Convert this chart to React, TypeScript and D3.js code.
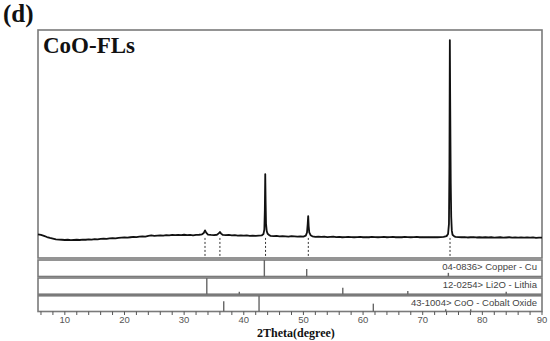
import React from "react";
import * as d3 from "d3";

// XRD pattern: [2theta, intensity]
const pattern: [number, number][] = [
  [5.5,104],[6,101],[6.5,97],[7,92],[7.5,88],[8,85],[8.5,82],[9,81],[9.5,80],[10,79],[10.5,80],[11,78],[11.5,79],[12,80],[12.5,79],[13,81],[13.5,80],[14,82],[14.5,81],[15,83],[15.5,82],[16,84],[16.5,85],[17,84],[17.5,86],[18,87],[18.5,86],[19,88],[19.5,89],[20,90],[20.5,89],[21,91],[21.5,93],[22,92],[22.5,94],[23,95],[23.5,94],[24,97],[24.5,99],[25,97],[25.5,98],[26,99],[26.5,98],[27,100],[27.5,99],[28,101],[28.5,100],[29,101],[29.5,100],[30,102],[30.5,100],[31,101],[31.5,99],[32,101],[32.5,102],[33,104],[33.3,110],[33.5,121],[33.7,111],[34,103],[34.5,101],[35,100],[35.5,102],[35.8,108],[36,114],[36.2,107],[36.5,101],[37,100],[37.5,101],[38,99],[38.5,100],[39,98],[39.5,99],[40,98],[40.5,99],[41,97],[41.5,98],[42,97],[42.5,98],[43,99],[43.3,105],[43.45,125],[43.53,210],[43.6,368],[43.66,250],[43.73,150],[43.85,118],[44,106],[44.3,100],[44.5,97],[45,96],[45.5,97],[46,95],[46.5,96],[47,95],[47.5,94],[48,96],[48.5,95],[49,94],[49.5,95],[50,94],[50.4,98],[50.6,112],[50.72,150],[50.8,184],[50.88,140],[50.98,112],[51.2,100],[51.5,95],[52,93],[52.5,94],[53,93],[53.5,94],[54,92],[54.5,93],[55,94],[55.5,92],[56,93],[56.5,91],[57,92],[57.5,93],[58,92],[58.5,91],[59,92],[59.5,93],[60,91],[60.5,92],[61,91],[61.5,93],[62,92],[62.5,91],[63,92],[63.5,93],[64,91],[64.5,92],[65,93],[65.5,91],[66,92],[66.5,91],[67,93],[67.5,92],[68,91],[68.5,92],[69,93],[69.5,91],[70,92],[70.5,91],[71,92],[71.5,91],[72,92],[72.5,91],[73,92],[73.5,93],[74,96],[74.25,105],[74.4,150],[74.48,400],[74.55,956],[74.6,720],[74.65,520],[74.7,330],[74.78,180],[74.88,120],[75,102],[75.3,95],[75.5,93],[76,92],[76.5,91],[77,92],[77.5,90],[78,91],[78.5,92],[79,90],[79.5,91],[80,90],[80.5,91],[81,90],[81.5,91],[82,89],[82.5,90],[83,91],[83.5,89],[84,90],[84.5,91],[85,89],[85.5,90],[86,89],[86.5,90],[87,89],[87.5,90],[88,89],[88.5,90],[89,88],[89.5,89],[90,89],
];

const dashedPeaks: number[] = [33.5, 36.0, 43.65, 50.82, 74.58];

const copperLines: [number, number][] = [[43.45, 100], [50.55, 45], [74.3, 22]];
const lithiaLines: [number, number][] = [[33.8, 100], [39.25, 15], [56.6, 40], [67.5, 20], [84.0, 15]];
const cobaltLines: [number, number][] = [[36.64, 65], [42.56, 100], [61.72, 50], [73.86, 15], [78.05, 15]];

const refLabels: string[] = [
  "04-0836> Copper - Cu",
  "12-0254> Li2O - Lithia",
  "43-1004> CoO - Cobalt Oxide",
];

const majorTicks: number[] = [10, 20, 30, 40, 50, 60, 70, 80, 90];
const minorTicks: number[] = d3.range(6, 91, 2);

const title = "CoO-FLs";
const panelLabel = "(d)";
const xTitle = "2Theta(degree)";

export default function App() {
  const W = 550, H = 341;
  const left = 38, right = 542, top = 30, mainBottom = 258;
  const x = d3.scaleLinear().domain([5.5, 90]).range([left, right]);
  const y = d3.scaleLinear().domain([0, 1000]).range([mainBottom, top]);
  const line = d3.line<[number, number]>().x(d => x(d[0])).y(d => y(d[1]));

  const strips = [
    { y0: 260, y1: 276.5, lines: copperLines, label: refLabels[0] },
    { y0: 278, y1: 294.2, lines: lithiaLines, label: refLabels[1] },
    { y0: 295.8, y1: 311.5, lines: cobaltLines, label: refLabels[2] },
  ];
  const axisY = 311.5;
  const frame = "#7a7a7a";

  return (
    <svg width={W} height={H} style={{ position: "absolute", left: 0, top: 0, background: "#fff" }}>
      <rect x={0} y={0} width={W} height={H} fill="#fff" />
      {/* main frame */}
      <rect x={left} y={top} width={right - left} height={mainBottom - top} fill="none" stroke={frame} strokeWidth={1.6} />
      {/* dashed lines */}
      {dashedPeaks.map((p, i) => (
        <line key={i} x1={x(p)} x2={x(p)} y1={y(88)} y2={mainBottom} stroke="#333" strokeWidth={1} strokeDasharray="2,2" />
      ))}
      {/* pattern */}
      <path d={line(pattern) || ""} fill="none" stroke="#111" strokeWidth={1.8} strokeLinejoin="round" />
      {/* reference strips */}
      {strips.map((s, i) => {
        const h = d3.scaleLinear().domain([0, 100]).range([s.y1, s.y0]);
        return (
          <g key={i}>
            <rect x={left} y={s.y0} width={right - left} height={s.y1 - s.y0} fill="none" stroke={frame} strokeWidth={1.6} />
            {s.lines.map((l, j) => (
              <line key={j} x1={x(l[0])} x2={x(l[0])} y1={s.y1} y2={h(l[1])} stroke="#666" strokeWidth={1.4} />
            ))}
            <text x={537} y={s.y0 + 10} textAnchor="end" fontFamily="Arial, 'Liberation Sans', sans-serif" fontSize={9.5} fill="#444">{s.label}</text>
          </g>
        );
      })}
      {/* x axis ticks */}
      {minorTicks.map((t, i) => (
        <line key={i} x1={x(t)} x2={x(t)} y1={axisY} y2={axisY + 3.5} stroke="#555" strokeWidth={1} />
      ))}
      {majorTicks.map((t, i) => (
        <text key={i} x={x(t)} y={323} textAnchor="middle" fontFamily="Arial, 'Liberation Sans', sans-serif" fontSize={9.5} fill="#555">{t}</text>
      ))}
      <text x={296} y={337} textAnchor="middle" fontFamily="'Liberation Serif', 'Times New Roman', serif" fontWeight="bold" fontSize={12} fill="#111">{xTitle}</text>
      {/* titles */}
      <text x={3} y={22} fontFamily="'Liberation Serif', 'Times New Roman', serif" fontWeight="bold" fontSize={25} fill="#111">{panelLabel}</text>
      <text x={43} y={53} fontFamily="'Liberation Serif', 'Times New Roman', serif" fontWeight="bold" fontSize={23} fill="#111">{title}</text>
    </svg>
  );
}
